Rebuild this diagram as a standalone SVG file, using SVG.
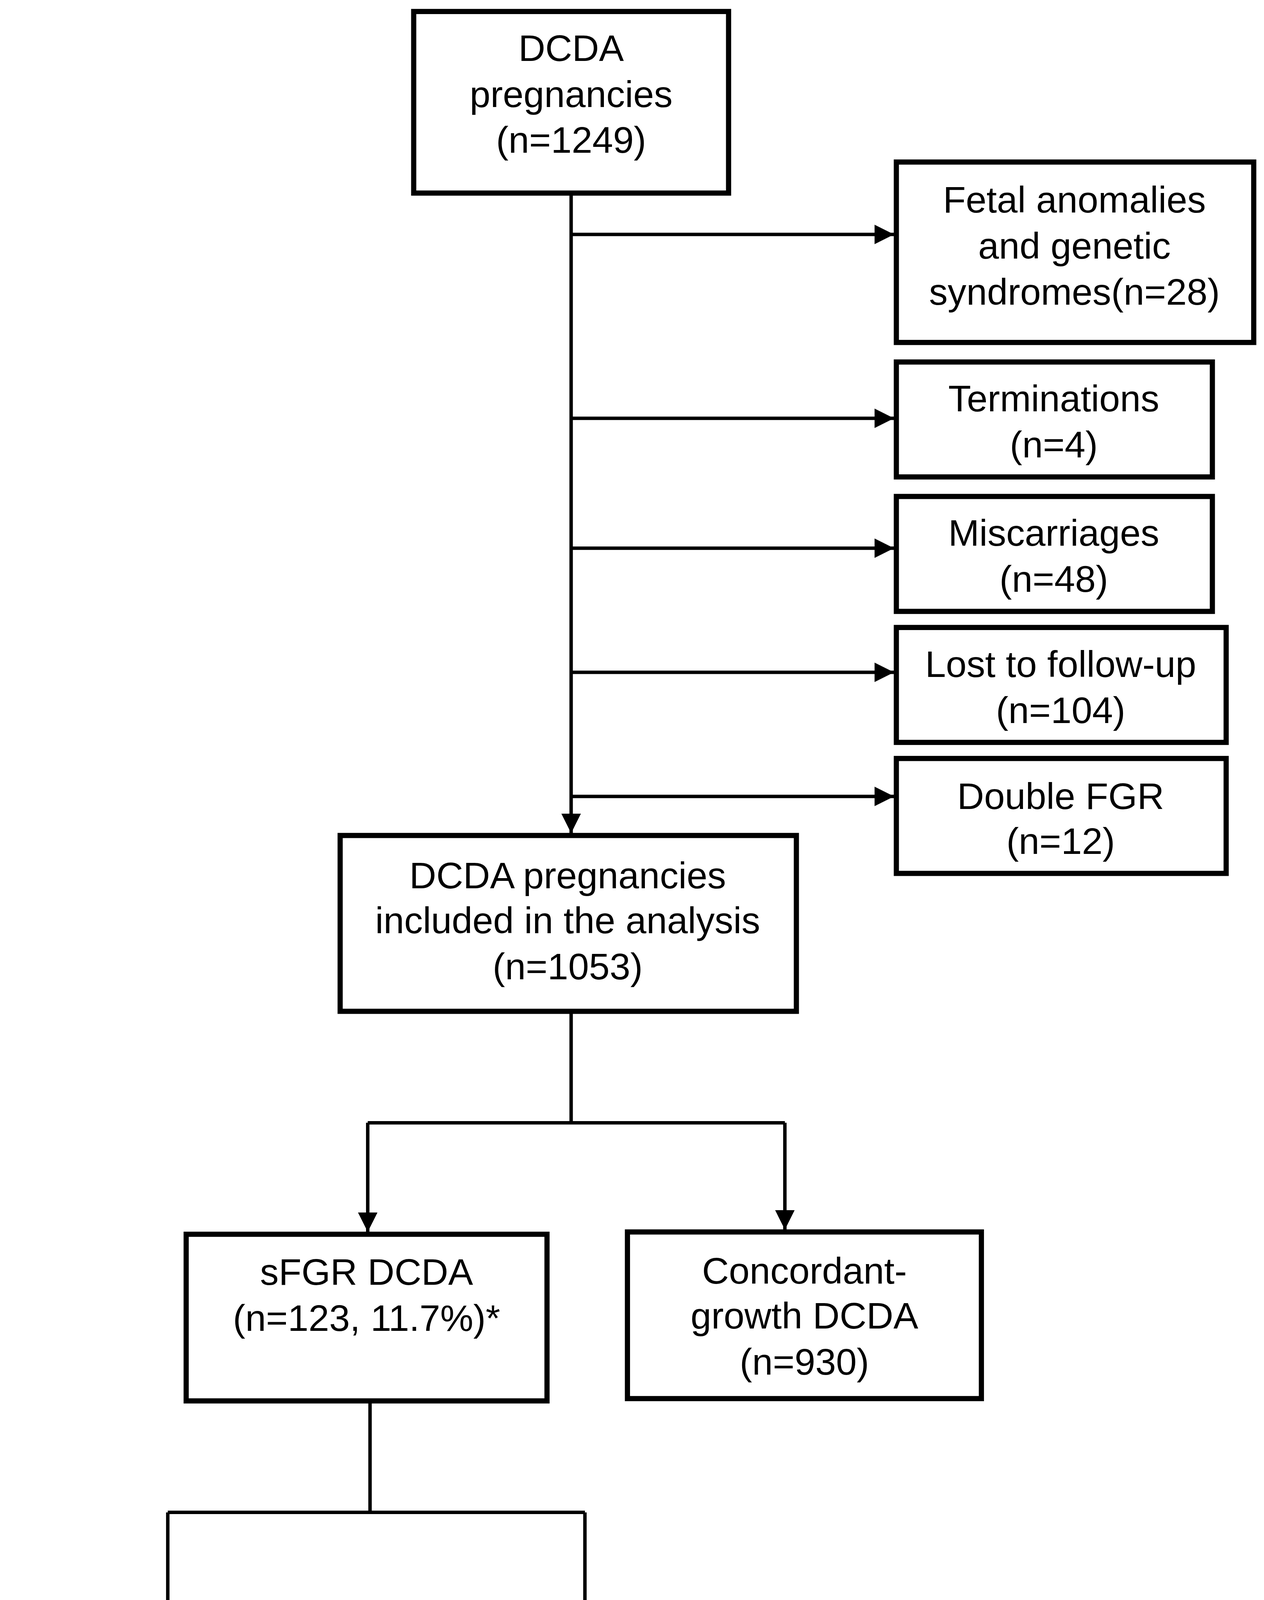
<svg xmlns="http://www.w3.org/2000/svg" width="3236" height="4619" viewBox="0 0 3236 4619">
<style>
.box{fill:#fff;stroke:#000;stroke-width:4.5}
.ln{fill:none;stroke:#000;stroke-width:3}
text{font-family:"Liberation Sans",Arial,sans-serif;font-size:32.4px;text-anchor:middle;fill:#000}
</style>
<defs>
<marker id="a" viewBox="0 0 10 10" refX="10" refY="5" markerWidth="17" markerHeight="17" orient="auto" markerUnits="userSpaceOnUse"><path d="M0,0 L10,5 L0,10 z" fill="#000"/></marker></defs>
<rect width="3236" height="4619" fill="#fff"/>
<g transform="scale(2.942)">
<g id="connectors">
<path class="ln" d="M497,168 V725" marker-end="url(#a)"/>
<path class="ln" d="M497,204 H778" marker-end="url(#a)"/>
<path class="ln" d="M497,364 H778" marker-end="url(#a)"/>
<path class="ln" d="M497,477 H778" marker-end="url(#a)"/>
<path class="ln" d="M497,585 H778" marker-end="url(#a)"/>
<path class="ln" d="M497,693 H778" marker-end="url(#a)"/>
<path class="ln" d="M497,880 V977 M320,977 H683"/>
<path class="ln" d="M320,977 V1072" marker-end="url(#a)"/>
<path class="ln" d="M683,977 V1070" marker-end="url(#a)"/>
<path class="ln" d="M322,1219 V1316 M146,1316 H509"/>
<path class="ln" d="M146,1316 V1411" marker-end="url(#a)"/>
<path class="ln" d="M509,1316 V1411" marker-end="url(#a)"/>
</g>
<g id="n1"><rect class="box" x="360" y="10" width="274" height="158"/><text x="497" y="53">DCDA</text><text x="497" y="93">pregnancies</text><text x="497" y="133">(n=1249)</text></g>
<g id="n2"><rect class="box" x="780" y="141" width="311" height="157"/><text x="935" y="185">Fetal anomalies</text><text x="935" y="225">and genetic</text><text x="935" y="265">syndromes(n=28)</text></g>
<g id="n3"><rect class="box" x="780" y="315" width="275" height="100"/><text x="917" y="358">Terminations</text><text x="917" y="398">(n=4)</text></g>
<g id="n4"><rect class="box" x="780" y="432" width="275" height="100"/><text x="917" y="475">Miscarriages</text><text x="917" y="515">(n=48)</text></g>
<g id="n5"><rect class="box" x="780" y="546" width="287" height="100"/><text x="923" y="589">Lost to follow-up</text><text x="923" y="629">(n=104)</text></g>
<g id="n6"><rect class="box" x="780" y="660" width="287" height="100"/><text x="923" y="704">Double FGR</text><text x="923" y="743">(n=12)</text></g>
<g id="n7"><rect class="box" x="296" y="727" width="397" height="153"/><text x="494" y="773">DCDA pregnancies</text><text x="494" y="812">included in the analysis</text><text x="494" y="852">(n=1053)</text></g>
<g id="n8"><rect class="box" x="162" y="1074" width="314" height="145"/><text x="319" y="1118">sFGR DCDA</text><text x="319" y="1158">(n=123, 11.7%)*</text></g>
<g id="n9"><rect class="box" x="546" y="1072" width="308" height="145"/><text x="700" y="1117">Concordant-</text><text x="700" y="1156">growth DCDA</text><text x="700" y="1196">(n=930)</text></g>
<g id="n10"><rect class="box" x="7" y="1413" width="276" height="148"/><text x="145" y="1458">Early sFGR</text><text x="145" y="1498">(n=88, 8.4%)</text></g>
<g id="n11"><rect class="box" x="370" y="1413" width="276" height="148"/><text x="508" y="1458">Late sFGR</text><text x="508" y="1498">(n=35, 3.3%)</text></g>
</g>
</svg>
